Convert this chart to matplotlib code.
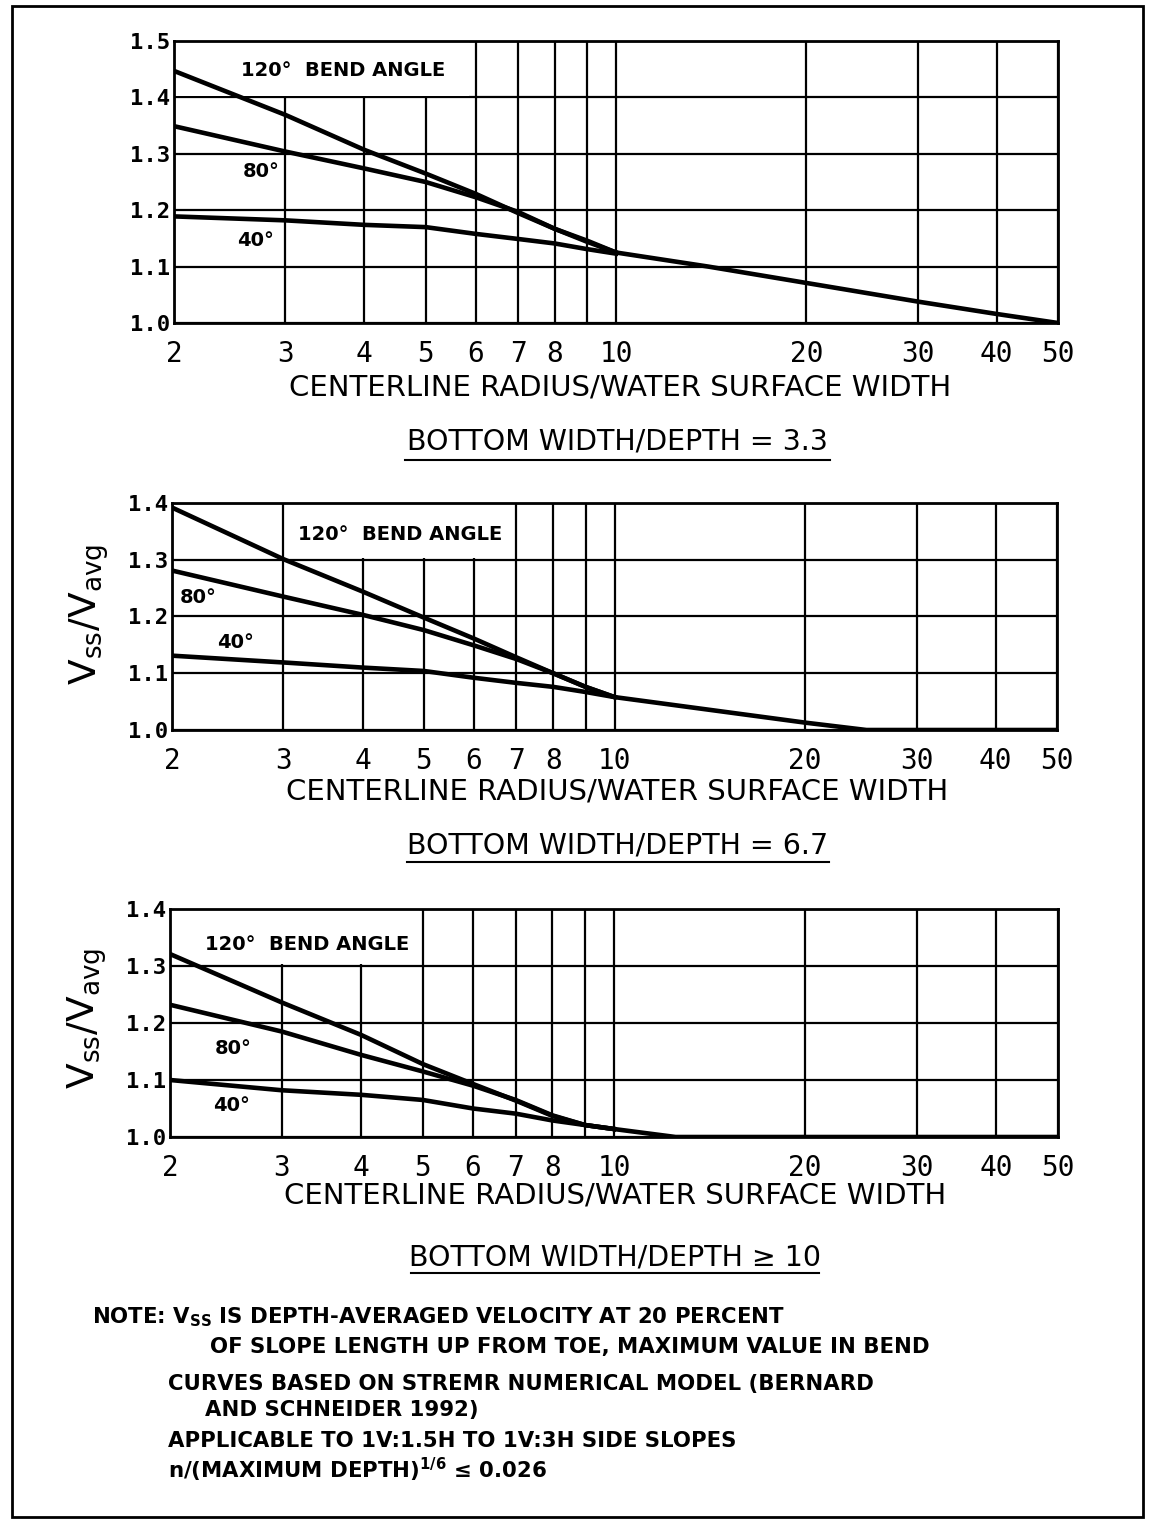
import matplotlib
matplotlib.use("Agg")
import matplotlib.pyplot as plt
from matplotlib.patches import Rectangle
from matplotlib.lines import Line2D

W, H = 1155, 1524

# x positions read at the grid lines
x_pts = [2, 3, 4, 5, 6, 7, 8, 9, 10]

# bottom width/depth = 3.3
p1_120 = [1.447, 1.369, 1.307, 1.265, 1.229, 1.195, 1.167, 1.146, 1.125]
p1_80 = [1.349, 1.304, 1.274, 1.250, 1.223, 1.197, 1.167, 1.144, 1.125]
p1_40 = [1.189, 1.182, 1.174, 1.170, 1.158, 1.149, 1.141, 1.131, 1.123]
p1_tail_x = [14, 20, 30, 40, 50]
p1_tail_y = [1.100, 1.071, 1.038, 1.016, 1.000]

# bottom width/depth = 6.7
p2_120 = [1.392, 1.301, 1.244, 1.198, 1.161, 1.128, 1.100, 1.076, 1.058]
p2_80 = [1.281, 1.235, 1.203, 1.176, 1.149, 1.125, 1.100, 1.076, 1.058]
p2_40 = [1.131, 1.119, 1.110, 1.104, 1.092, 1.083, 1.076, 1.067, 1.058]
p2_tail_x = [20, 25, 50]
p2_tail_y = [1.013, 1.000, 1.000]

# bottom width/depth >= 10
p3_120 = [1.321, 1.236, 1.179, 1.128, 1.093, 1.064, 1.037, 1.021, 1.014]
p3_80 = [1.232, 1.185, 1.144, 1.115, 1.090, 1.065, 1.038, 1.021, 1.014]
p3_40 = [1.100, 1.082, 1.074, 1.065, 1.050, 1.041, 1.029, 1.021, 1.014]
p3_tail_x = [12.5, 50]
p3_tail_y = [1.000, 1.000]

x_grid = [2, 3, 4, 5, 6, 7, 8, 9, 10, 20, 30, 40, 50]
x_labels = ["2", "3", "4", "5", "6", "7", "8", "", "10", "20", "30", "40", "50"]

mono = "DejaVu Sans Mono"


def fx(px):
    return px / W


def fy(py):
    return 1 - py / H


fig = plt.figure(figsize=(W / 100, H / 100), dpi=100)


def panel(box, ymax, curves, tail_x, tail_y, label_box, labels):
    l, t, r, b = box
    ax = fig.add_axes([fx(l), fy(b), fx(r) - fx(l), (b - t) / H])
    ax.set_xscale("log")
    ax.set_xlim(2, 50)
    ax.set_ylim(1.0, ymax)
    ax.minorticks_off()
    ax.set_xticks(x_grid)
    ax.set_xticklabels(x_labels, fontfamily=mono, fontsize=20)
    yt = [round(1.0 + 0.1 * i, 1) for i in range(int(round((ymax - 1.0) / 0.1)) + 1)]
    ax.set_yticks(yt)
    ax.set_yticklabels([f"{v:.1f}" for v in yt], fontfamily=mono, fontsize=16,
                       fontweight="bold")
    ax.tick_params(length=0, pad=3)
    ax.tick_params(axis="x", pad=12)
    ax.set_axisbelow(True)
    ax.grid(True, color="black", lw=1.6)
    for s in ax.spines.values():
        s.set_linewidth(2)
    # white area behind the "BEND ANGLE" label
    x0, x1, y0 = label_box
    ax.add_patch(Rectangle((x0, y0), x1 - x0, ymax - y0, facecolor="white",
                           edgecolor="none", zorder=1.5))
    for ys in curves:
        ax.plot(x_pts, ys, color="black", lw=3.3, zorder=3, solid_joinstyle="round")
    ax.plot([x_pts[-1]] + tail_x, [curves[0][-1]] + tail_y, color="black", lw=3.3,
            zorder=3, solid_capstyle="butt")
    for (tx, ty, s) in labels:
        ax.text(tx, ty, s, fontsize=14, fontweight="bold", ha="left", va="center",
                zorder=4)
    return ax


panel((174, 41, 1058, 323), 1.5, [p1_120, p1_80, p1_40], p1_tail_x, p1_tail_y,
      (2, 5.85, 1.403),
      [(2.55, 1.447, "120°  BEND ANGLE"), (2.57, 1.268, "80°"), (2.52, 1.147, "40°")])
panel((172, 503, 1057, 730), 1.4, [p2_120, p2_80, p2_40], p2_tail_x, p2_tail_y,
      (3.03, 6.93, 1.303),
      [(3.16, 1.344, "120°  BEND ANGLE"), (2.06, 1.233, "80°"), (2.36, 1.155, "40°")])
panel((170, 909, 1058, 1137), 1.4, [p3_120, p3_80, p3_40], p3_tail_x, p3_tail_y,
      (2, 4.93, 1.303),
      [(2.27, 1.337, "120°  BEND ANGLE"), (2.35, 1.156, "80°"), (2.34, 1.056, "40°")])

# axis titles
for cx, cy in [(620, 388), (617, 791), (615, 1196)]:
    fig.text(fx(cx), fy(cy), "CENTERLINE RADIUS/WATER SURFACE WIDTH", fontsize=21,
             ha="center", va="center")
ylab = r"V$_{\mathregular{ss}}$/V$_{\mathregular{avg}}$"
for cx, cy in [(89, 614), (87, 1018)]:
    fig.text(fx(cx), fy(cy), ylab, fontsize=27, rotation=90, ha="center", va="center")

# panel captions, underlined
captions = [("BOTTOM WIDTH/DEPTH = 3.3", 617, 442, 405, 830, 460),
            ("BOTTOM WIDTH/DEPTH = 6.7", 618, 845, 407, 829, 862),
            ("BOTTOM WIDTH/DEPTH ≥ 10", 615, 1257, 411, 819, 1273)]
for s, cx, cy, u0, u1, uy in captions:
    fig.text(fx(cx), fy(cy), s, fontsize=20.5, ha="center", va="center")
    fig.add_artist(Line2D([fx(u0), fx(u1)], [fy(uy), fy(uy)], color="black", lw=1.5,
                          transform=fig.transFigure))

notes = [(92, 1317, r"NOTE: V$_{\mathregular{SS}}$ IS DEPTH-AVERAGED VELOCITY AT 20 PERCENT"),
         (210, 1347, "OF SLOPE LENGTH UP FROM TOE, MAXIMUM VALUE IN BEND"),
         (168, 1384, "CURVES BASED ON STREMR NUMERICAL MODEL (BERNARD"),
         (205, 1410, "AND SCHNEIDER 1992)"),
         (168, 1441, "APPLICABLE TO 1V:1.5H TO 1V:3H SIDE SLOPES"),
         (168, 1470, r"n/(MAXIMUM DEPTH)$^{\mathregular{1/6}}$ ≤ 0.026")]
for px, py, s in notes:
    fig.text(fx(px), fy(py), s, fontsize=15.3, fontweight="bold", ha="left", va="center")

# outer frame
fig.add_artist(Rectangle((fx(12), fy(1517)), fx(1143) - fx(12), (1517 - 6) / H,
                         fill=False, edgecolor="black", lw=2, transform=fig.transFigure))

fig.savefig("out.png", dpi=100, facecolor="white")
